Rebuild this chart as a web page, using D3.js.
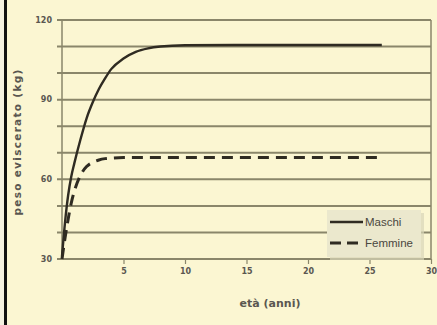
<!DOCTYPE html>
<html>
<head>
<meta charset="utf-8">
<script src="https://cdn.jsdelivr.net/npm/d3@7"></script>
<style>
  html, body { margin: 0; padding: 0; background: #fbf6d2; }
  svg { display: block; }
</style>
</head>
<body>
<svg id="chart" width="437" height="325"></svg>
<script>
// Growth curves: eviscerated weight (kg) by age (years)
const ages      = [0, 0.25, 0.5, 0.75, 1, 1.5, 2, 2.5, 3, 3.5, 4, 5, 6, 7, 8, 10, 14, 20, 26];
const maschi    = [31, 44, 54, 61, 66, 75, 83, 89, 94, 98, 101.5, 105.5, 108, 109.3, 110, 110.5, 110.6, 110.6, 110.6];
const femmine   = [30, 38, 45, 51, 55.5, 61.5, 64.8, 66.4, 67.3, 67.8, 68, 68.2, 68.2, 68.2, 68.2, 68.2, 68.2, 68.2, 68.2];
const seriesNames = ["Maschi", "Femmine"];
const xTicks = [5, 10, 15, 20, 25, 30];
const yGrid  = [30, 40, 50, 60, 70, 80, 90, 100, 110, 120];
const yLabels = [30, 60, 90, 120];

const svg = d3.select("#chart");
const W = 437, H = 325;

svg.append("rect").attr("width", W).attr("height", H).attr("fill", "#fbf6d2");
// dark frame edge on the left
svg.append("rect").attr("x", 0).attr("y", 0).attr("width", 4).attr("height", H).attr("fill", "#f4f1e0");
svg.append("rect").attr("x", 4).attr("y", 0).attr("width", 3).attr("height", H).attr("fill", "#111");

const x = d3.scaleLinear().domain([0, 30]).range([62, 431]);
const y = d3.scaleLinear().domain([30, 120]).range([259, 20]);

const gridCol = "#8a866a";
const textCol = "#5a5750";

// horizontal gridlines with left tick stubs
svg.append("g").selectAll("line").data(yGrid).join("line")
  .attr("x1", x(0) - 5).attr("x2", x(30))
  .attr("y1", d => y(d)).attr("y2", d => y(d))
  .attr("stroke", gridCol).attr("stroke-width", 2);

// left axis line and right border
svg.append("line").attr("x1", x(0)).attr("x2", x(0)).attr("y1", y(120)).attr("y2", y(30))
  .attr("stroke", gridCol).attr("stroke-width", 1.5);
svg.append("line").attr("x1", x(30)).attr("x2", x(30)).attr("y1", y(120)).attr("y2", y(30))
  .attr("stroke", gridCol).attr("stroke-width", 1.5);

// x tick marks and labels
const xAxis = d3.axisBottom(x).tickValues(xTicks).tickSize(5).tickSizeOuter(0).tickPadding(4);
const gx = svg.append("g").attr("transform", `translate(0,${y(30)})`).call(xAxis);
gx.select(".domain").remove();
gx.selectAll(".tick line").attr("stroke", gridCol).attr("stroke-width", 1.2);
gx.selectAll(".tick text").attr("fill", textCol)
  .style("font", "bold 8px 'DejaVu Sans', sans-serif");

// y labels
svg.append("g").selectAll("text").data(yLabels).join("text")
  .attr("x", 52).attr("y", d => y(d)).attr("dy", "0.35em")
  .attr("text-anchor", "end").attr("fill", textCol)
  .style("font", "bold 8px 'DejaVu Sans', sans-serif")
  .text(d => d);

// axis titles
svg.append("text")
  .attr("transform", `translate(17,${142}) rotate(-90)`)
  .attr("text-anchor", "middle").attr("dy", "0.35em")
  .attr("fill", textCol)
  .style("font", "bold 10.5px 'DejaVu Sans', sans-serif")
  .style("letter-spacing", "1.3px")
  .text("peso eviscerato (kg)");
svg.append("text")
  .attr("x", 270).attr("y", 303).attr("dy", "0.35em")
  .attr("text-anchor", "middle").attr("fill", textCol)
  .style("font", "bold 11px 'DejaVu Sans', sans-serif")
  .text("età (anni)");

// curves
const line = d3.line().x(d => x(d[0])).y(d => y(d[1])).curve(d3.curveMonotoneX);
const curveCol = "#2f2b22";
svg.append("path").datum(ages.map((a, i) => [a, femmine[i]]))
  .attr("d", line).attr("fill", "none")
  .attr("stroke", curveCol).attr("stroke-width", 3)
  .attr("stroke-dasharray", "11,7");
svg.append("path").datum(ages.map((a, i) => [a, maschi[i]]))
  .attr("d", line).attr("fill", "none")
  .attr("stroke", curveCol).attr("stroke-width", 2.4);

// legend
const lg = svg.append("g").attr("transform", "translate(327,210)");
lg.append("rect").attr("x", 3).attr("y", 3).attr("width", 94).attr("height", 47)
  .attr("fill", "#d9d5b8").attr("opacity", 0.7);
lg.append("rect").attr("width", 94).attr("height", 47).attr("fill", "#ebe8cd");
const items = [
  { name: seriesNames[0], dash: null, w: 2.4 },
  { name: seriesNames[1], dash: "11,6", w: 3 }
];
items.forEach((it, i) => {
  const yy = 12 + i * 21;
  lg.append("line").attr("x1", 3).attr("x2", 36).attr("y1", yy).attr("y2", yy)
    .attr("stroke", curveCol).attr("stroke-width", it.w)
    .attr("stroke-dasharray", it.dash);
  lg.append("text").attr("x", 38).attr("y", yy).attr("dy", "0.35em")
    .attr("fill", "#4a4740")
    .style("font", "11.5px 'Liberation Sans', Arial, sans-serif")
    .text(it.name);
});
</script>
</body>
</html>
